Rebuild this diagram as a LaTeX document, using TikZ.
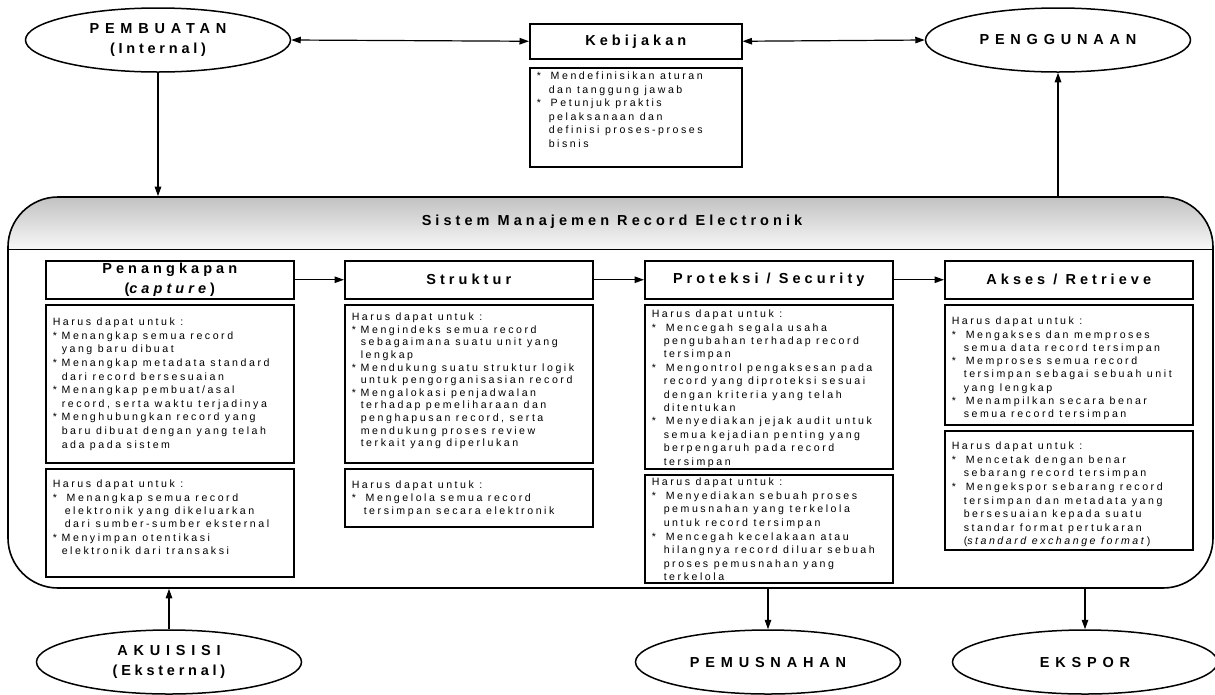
\documentclass[tikz,border=0pt]{standalone}
\usepackage{fontspec}
\setmainfont{Liberation Sans}
\newfontfamily\bodyf[LetterSpace=24]{Liberation Sans}
\newfontfamily\titf[LetterSpace=28]{Liberation Sans}
\newfontfamily\elcf[LetterSpace=40]{Liberation Sans}
\newfontfamily\ellf[LetterSpace=26]{Liberation Sans}
\usetikzlibrary{shapes.geometric,arrows.meta}
\newcommand\cbtext[5]{\parbox[c][#2][t]{#1}{\bodyf\fontsize{10.6}{#4}\selectfont\raggedright\hyphenpenalty=10000\exhyphenpenalty=10000\rule{0pt}{#3}#5}}
\newcommand\bulN{\makebox[9pt][l]{*}}
\newcommand\conN{\hspace*{9pt}}
\newcommand\bulW{\makebox[14pt][l]{*}}
\newcommand\conW{\hspace*{12pt}}
\begin{document}
\begin{tikzpicture}[x=1pt,y=-1pt,
  box/.style={draw, line width=1.5pt, rectangle, inner sep=0pt, anchor=north west},
  tbox/.style={box, minimum width=248pt, minimum height=38pt, align=center,
    font=\titf\bfseries\fontsize{14.5}{20}\selectfont},
  cbox/.style={box, inner xsep=7pt, inner ysep=0pt},
  ell/.style={draw, ellipse, line width=1.5pt, minimum width=265pt, minimum height=64pt,
    inner sep=0pt, align=center, font=\elcf\bfseries\fontsize{14.5}{20}\selectfont},
  arr/.style={line width=1.2pt, -{Triangle[length=9.5pt,width=6.5pt]}},
  darr/.style={line width=1.2pt, {Triangle[length=9.5pt,width=6.5pt]}-{Triangle[length=9.5pt,width=6.5pt]}}]
\useasboundingbox (0,0) rectangle (1215,694);
% container header band
\node[rectangle, inner sep=0pt, minimum width=1205pt, minimum height=52pt, anchor=north west] (hdr) at (8,197) {};
\begin{scope}
  \clip[rounded corners=50pt] (8,197) rectangle (1213,588);
  \shade[top color=gray!48, bottom color=gray!6] (hdr.north west) rectangle (hdr.south east);
\end{scope}
\node[draw, line width=1.6pt, rounded corners=50pt, minimum width=1205pt, minimum height=391pt, inner sep=0pt] (sys) at (610.5,392.5) {};
\draw[line width=1.4pt] (hdr.south west) -- (hdr.south east);
\node[font=\titf\bfseries\fontsize{14.5}{16}\selectfont] (systitle) at (612,222) {Sistem Manajemen Record Electronik};

% top row
\node[ell] (pemb) at (158,40) {PEMBUATAN\\{\ellf (Internal)}};
\node[ell] (peng) at (1058,40) {PENGGUNAAN};
\node[tbox, minimum width=212pt, minimum height=35pt] (keb) at (529,23) {Kebijakan};
\node[cbox] (kebc) at (529,67) {\cbtext{198pt}{99pt}{12pt}{13.5}{%
\bulW Mendefinisikan aturan\\
\conW dan tanggung jawab\\
\bulW Petunjuk praktis\\
\conW pelaksanaan dan\\
\conW definisi proses-proses\\
\conW bisnis}};

% columns: titles
\node[tbox] (pen) at (45,260) {Penangkapan\\(\textit{capture})};
\node[tbox] (str) at (344,260) {Struktur};
\node[tbox] (pro) at (644,260) {Proteksi / Security};
\node[tbox] (aks) at (944,260) {Akses / Retrieve};

% column 1
\node[cbox] (pena) at (45,304) {\cbtext{234pt}{158pt}{21pt}{13.6}{%
Harus dapat untuk :\\
\bulN Menangkap semua record\\
\conN yang baru dibuat\\
\bulN Menangkap metadata standard\\
\conN dari record bersesuaian\\
\bulN Menangkap pembuat/asal\\
\conN record, serta waktu terjadinya\\
\bulN Menghubungkan record yang\\
\conN baru dibuat dengan yang telah\\
\conN ada pada sistem}};
\node[cbox] (penb) at (45,468) {\cbtext{234pt}{108pt}{19pt}{13.4}{%
Harus dapat untuk :\\
\bulW Menangkap semua record\\
\conW elektronik yang dikeluarkan\\
\conW dari sumber-sumber eksternal\\
\bulN Menyimpan otentikasi\\
\conN elektronik dari transaksi}};

% column 2
\node[cbox] (stra) at (344,304) {\cbtext{234pt}{158pt}{16pt}{12.6}{%
Harus dapat untuk :\\
\bulN Mengindeks semua record\\
\conN sebagaimana suatu unit yang\\
\conN lengkap\\
\bulN Mendukung suatu struktur logik\\
\conN untuk pengorganisasian record\\
\bulN Mengalokasi penjadwalan\\
\conN terhadap pemeliharaan dan\\
\conN penghapusan record, serta\\
\conN mendukung proses review\\
\conN terkait yang diperlukan}};
\node[cbox] (strb) at (344,468) {\cbtext{234pt}{58pt}{20pt}{13}{%
Harus dapat untuk :\\
\bulW Mengelola semua record\\
\conW tersimpan secara elektronik}};

% column 3
\node[cbox] (proa) at (644,304) {\cbtext{234pt}{164pt}{13pt}{13.4}{%
Harus dapat untuk :\\
\bulW Mencegah segala usaha\\
\conW pengubahan terhadap record\\
\conW tersimpan\\
\bulW Mengontrol pengaksesan pada\\
\conW record yang diproteksi sesuai\\
\conW dengan kriteria yang telah\\
\conW ditentukan\\
\bulW Menyediakan jejak audit untuk\\
\conW semua kejadian penting yang\\
\conW berpengaruh pada record\\
\conW tersimpan}};
\node[cbox] (prob) at (644,474) {\cbtext{234pt}{108pt}{11pt}{13.6}{%
Harus dapat untuk :\\
\bulW Menyediakan sebuah proses\\
\conW pemusnahan yang terkelola\\
\conW untuk record tersimpan\\
\bulW Mencegah kecelakaan atau\\
\conW hilangnya record diluar sebuah\\
\conW proses pemusnahan yang\\
\conW terkelola}};

% column 4
\node[cbox] (aksa) at (944,304) {\cbtext{234pt}{120pt}{20pt}{13.3}{%
Harus dapat untuk :\\
\bulW Mengakses dan memproses\\
\conW semua data record tersimpan\\
\bulW Memproses semua record\\
\conW tersimpan sebagai sebuah unit\\
\conW yang lengkap\\
\bulW Menampilkan secara benar\\
\conW semua record tersimpan}};
\node[cbox] (aksb) at (944,430) {\cbtext{234pt}{119pt}{19pt}{13.6}{%
Harus dapat untuk :\\
\bulW Mencetak dengan benar\\
\conW sebarang record tersimpan\\
\bulW Mengekspor sebarang record\\
\conW tersimpan dan metadata yang\\
\conW bersesuaian kepada suatu\\
\conW standar format pertukaran\\
\conW (\textit{standard exchange format})}};

% bottom ellipses
\node[ell] (akuis) at (169,662) {AKUISISI\\{\ellf (Eksternal)}};
\node[ell] (pemus) at (768,662) {PEMUSNAHAN};
\node[ell] (eksp) at (1085,662) {EKSPOR};

% connectors
\draw[darr] (pemb.east) -- (keb.west);
\draw[darr] (keb.east) -- (peng.west);
\draw[arr] (pemb.south) -- (pemb.south |- sys.north);
\draw[arr] (peng.south |- sys.north) -- (peng.south);
\draw[arr] (pen.east) -- (str.west);
\draw[arr] (str.east) -- (pro.west);
\draw[arr] (pro.east) -- (aks.west);
\draw[arr] (akuis.north) -- (akuis.north |- sys.south);
\draw[arr] (pemus.north |- sys.south) -- (pemus.north);
\draw[arr] (eksp.north |- sys.south) -- (eksp.north);
\end{tikzpicture}
\end{document}
